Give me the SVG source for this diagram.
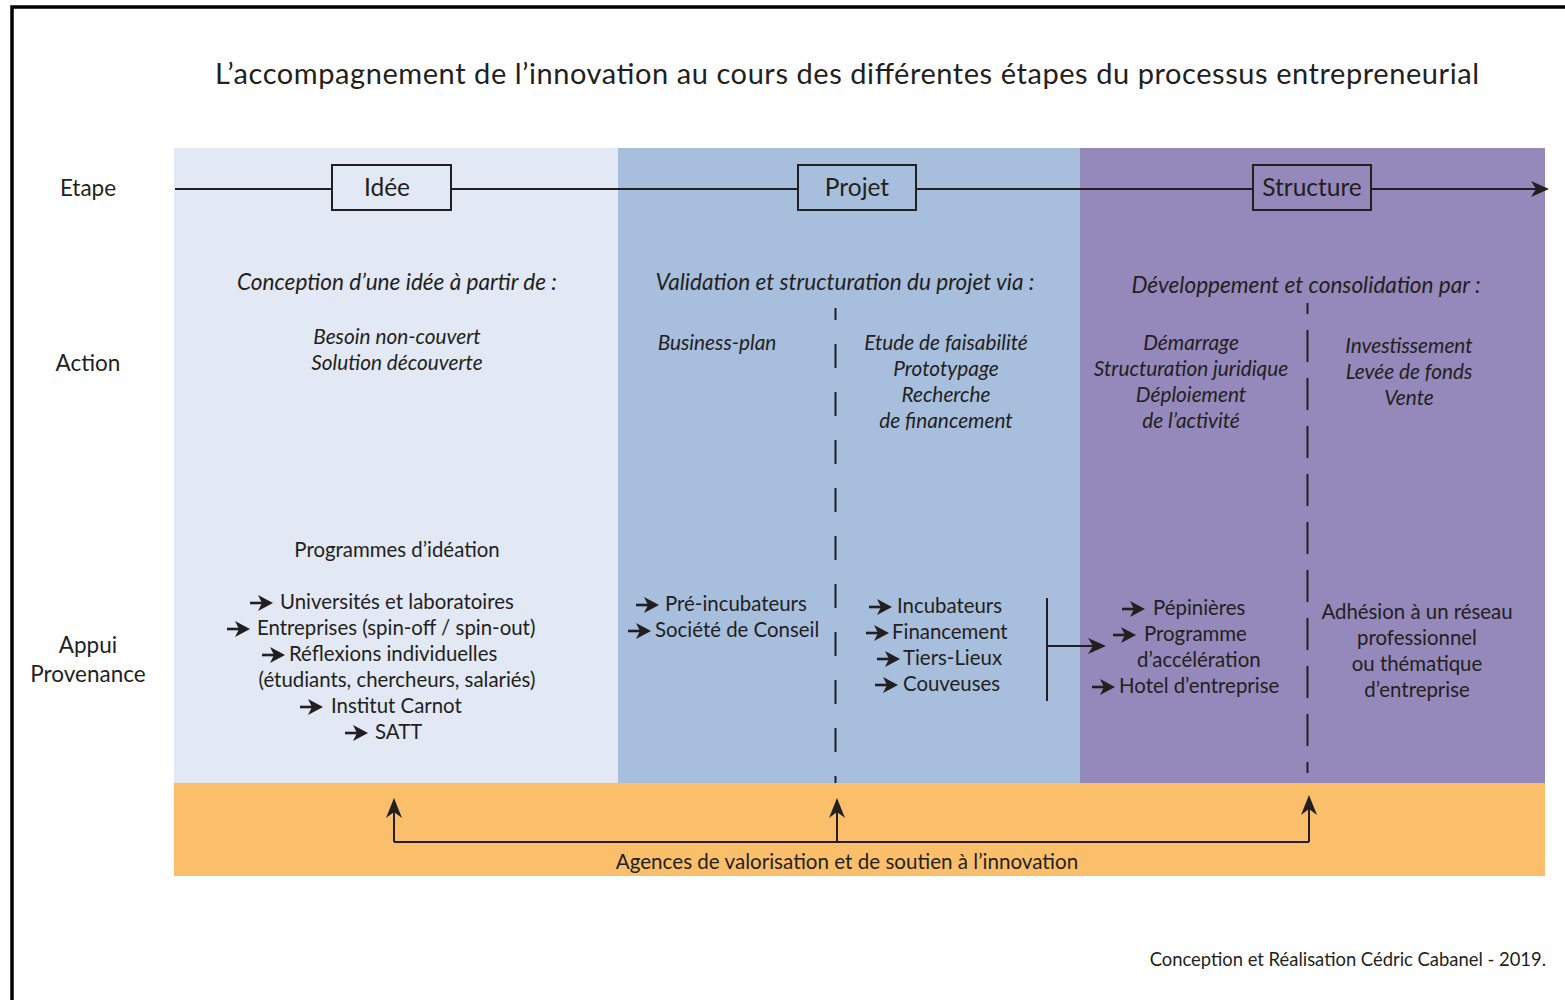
<svg xmlns="http://www.w3.org/2000/svg" xmlns:xlink="http://www.w3.org/1999/xlink" width="1565" height="1000" viewBox="0 0 1565 1000">
<style>
text{font-family:Lato,"Open Sans","Liberation Sans",sans-serif;fill:#231f20;}
.lab{font-size:22.5px;text-anchor:middle;}
.box{fill:none;stroke:#231f20;stroke-width:2;}
.boxt{font-size:24.5px;text-anchor:middle;}
.hd{font-size:22.6px;font-style:italic;text-anchor:middle;}
.it{font-size:20.8px;font-style:italic;text-anchor:middle;}
.n{font-size:20.4px;}
.c{text-anchor:middle;}
.ln{stroke:#231f20;stroke-width:2;fill:none;}
</style>
<defs>
<g id="arr"><path d="M0,0 H13" stroke="#231f20" stroke-width="2.6"/><path d="M23,0 L8,-8 L12,0 L8,8 Z" fill="#231f20"/></g>
<marker id="ah" viewBox="0 0 18 16" refX="16" refY="8" markerWidth="18" markerHeight="16" markerUnits="userSpaceOnUse" orient="auto"><path d="M18,8 L0,0 L5,8 L0,16 Z" fill="#231f20"/></marker>
<marker id="au" viewBox="0 0 20 16" refX="18" refY="8" markerWidth="20" markerHeight="16" markerUnits="userSpaceOnUse" orient="auto"><path d="M20,8 L0,0 L6,8 L0,16 Z" fill="#231f20"/></marker>
</defs>
<rect width="1565" height="1000" fill="#ffffff"/>
<path d="M12,1000 V7 H1565" fill="none" stroke="#000" stroke-width="3.5"/>

<g id="panels">
<rect x="174" y="148" width="444" height="635" fill="#e2e8f4"/>
<rect x="618" y="148" width="462" height="635" fill="#a8bedd"/>
<rect x="1080" y="148" width="465" height="635" fill="#9489ba"/>
<rect x="174" y="783" width="1371" height="93" fill="#fbbf6c"/>
</g>

<text x="847" y="84" font-size="29" text-anchor="middle" textLength="1264" lengthAdjust="spacing">L’accompagnement de l’innovation au cours des différentes étapes du processus entrepreneurial</text>

<g id="row-labels">
<text class="lab" x="88" y="196">Etape</text>
<text class="lab" x="88" y="371">Action</text>
<text class="lab" x="88" y="653">Appui</text>
<text class="lab" x="88" y="682">Provenance</text>
</g>

<g id="connectors">
<path class="ln" d="M175,189 H332 M451,189 H798 M916,189 H1253"/>
<path class="ln" d="M1371,189 H1547" marker-end="url(#ah)"/>
<path d="M835.5,308 V783" stroke="#231f20" stroke-width="2" stroke-dasharray="24 24" stroke-dashoffset="12"/>
<path d="M1307.5,303 V773" stroke="#231f20" stroke-width="2" stroke-dasharray="32 16" stroke-dashoffset="21"/>
<path class="ln" d="M1047,598 V701"/>
<path class="ln" d="M1047,646 H1104" marker-end="url(#ah)"/>
<path class="ln" d="M394,842 H1309"/>
<path class="ln" d="M394,842 V800" marker-end="url(#au)"/>
<path class="ln" d="M837,842 V800" marker-end="url(#au)"/>
<path class="ln" d="M1309,842 V797" marker-end="url(#au)"/>
</g>

<g id="node-idee">
<rect class="box" x="332" y="165" width="119" height="45" fill="#e2e8f4"/>
<text class="boxt" x="387" y="196">Idée</text>
</g>
<g id="node-projet">
<rect class="box" x="798" y="165" width="118" height="45"/>
<text class="boxt" x="857" y="196">Projet</text>
</g>
<g id="node-structure">
<rect class="box" x="1253" y="165" width="118" height="45"/>
<text class="boxt" x="1312" y="196">Structure</text>
</g>

<g id="action-idee">
<text class="hd" x="397" y="290">Conception d’une idée à partir de :</text>
<text class="it" x="397" y="344">Besoin non-couvert</text>
<text class="it" x="397" y="370">Solution découverte</text>
</g>
<g id="action-projet">
<text class="hd" x="845" y="290">Validation et structuration du projet via :</text>
<text class="it" x="717" y="350">Business-plan</text>
<text class="it" x="946" y="350">Etude de faisabilité</text>
<text class="it" x="946" y="376">Prototypage</text>
<text class="it" x="946" y="402">Recherche</text>
<text class="it" x="946" y="428">de financement</text>
</g>
<g id="action-structure">
<text class="hd" x="1306" y="293">Développement et consolidation par :</text>
<text class="it" x="1191" y="350">Démarrage</text>
<text class="it" x="1191" y="376">Structuration juridique</text>
<text class="it" x="1191" y="402">Déploiement</text>
<text class="it" x="1191" y="428">de l’activité</text>
<text class="it" x="1409" y="353">Investissement</text>
<text class="it" x="1409" y="379">Levée de fonds</text>
<text class="it" x="1409" y="405">Vente</text>
</g>

<g id="appui-idee">
<text class="n c" x="397" y="557">Programmes d’idéation</text>
<use xlink:href="#arr" x="250" y="603"/><text class="n" x="280" y="609">Universités et laboratoires</text>
<use xlink:href="#arr" x="227" y="629"/><text class="n" x="257" y="635">Entreprises (spin-off / spin-out)</text>
<use xlink:href="#arr" x="262" y="655"/><text class="n" x="289" y="661">Réflexions individuelles</text>
<text class="n c" x="397" y="687">(étudiants, chercheurs, salariés)</text>
<use xlink:href="#arr" x="300" y="707"/><text class="n" x="331" y="713">Institut Carnot</text>
<use xlink:href="#arr" x="345" y="733"/><text class="n" x="375" y="739">SATT</text>
</g>
<g id="appui-projet">
<use xlink:href="#arr" x="636" y="605"/><text class="n" x="665" y="611">Pré-incubateurs</text>
<use xlink:href="#arr" x="628" y="631"/><text class="n" x="655" y="637">Société de Conseil</text>
<use xlink:href="#arr" x="869" y="607"/><text class="n" x="897" y="613">Incubateurs</text>
<use xlink:href="#arr" x="866" y="633"/><text class="n" x="892" y="639">Financement</text>
<use xlink:href="#arr" x="877" y="659"/><text class="n" x="903" y="665">Tiers-Lieux</text>
<use xlink:href="#arr" x="875" y="685"/><text class="n" x="903" y="691">Couveuses</text>
</g>
<g id="appui-structure">
<use xlink:href="#arr" x="1122" y="609"/><text class="n" x="1153" y="615">Pépinières</text>
<use xlink:href="#arr" x="1113" y="635"/><text class="n" x="1144" y="641">Programme</text>
<text class="n" x="1137" y="667">d’accélération</text>
<use xlink:href="#arr" x="1092" y="687"/><text class="n" x="1119" y="693">Hotel d’entreprise</text>
<text class="n c" x="1417" y="619">Adhésion à un réseau</text>
<text class="n c" x="1417" y="645">professionnel</text>
<text class="n c" x="1417" y="671">ou thématique</text>
<text class="n c" x="1417" y="697">d’entreprise</text>
</g>

<g id="agences">
<text class="c" font-size="20.6" x="847" y="869">Agences de valorisation et de soutien à l’innovation</text>
</g>
<text x="1546" y="966" font-size="18.4" text-anchor="end">Conception et Réalisation Cédric Cabanel - 2019.</text>
</svg>
